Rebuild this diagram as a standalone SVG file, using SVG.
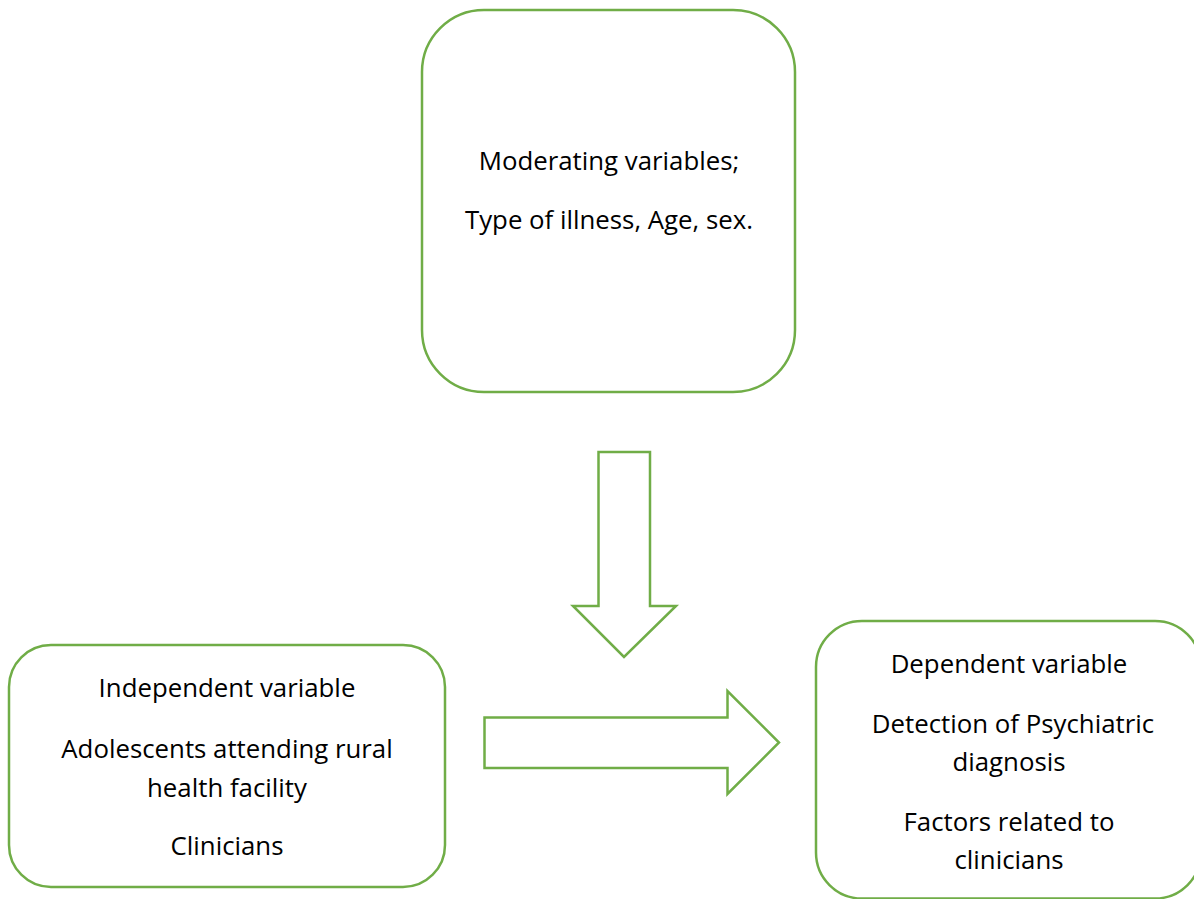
<svg xmlns="http://www.w3.org/2000/svg" width="1194" height="899" viewBox="0 0 1194 899">
<style>
.box{fill:#fff;stroke:#70AD47;stroke-width:2.5}
.arr{fill:#fff;stroke:#70AD47;stroke-width:2.5;stroke-linejoin:miter}
text{font-family:"Open Sans","Noto Sans",sans-serif;font-size:25.8px;fill:#000;text-anchor:middle}
</style>
<rect width="1194" height="899" fill="#fff"/>
<g id="moderating">
<rect class="box" x="422" y="10" width="373" height="382" rx="62" ry="62"/>
<text x="609" y="170">Moderating variables;</text>
<text x="609" y="229">Type of illness, Age, sex.</text>
</g>
<g id="independent">
<rect class="box" x="9" y="645" width="436" height="242" rx="42" ry="42"/>
<text x="227" y="697">Independent variable</text>
<text x="227" y="758">Adolescents attending rural</text>
<text x="227" y="797">health facility</text>
<text x="227" y="855">Clinicians</text>
</g>
<g id="dependent">
<rect class="box" x="816" y="621" width="385" height="277.5" rx="46" ry="46"/>
<text x="1009" y="673">Dependent variable</text>
<text x="1013" y="733">Detection of Psychiatric</text>
<text x="1009" y="771">diagnosis</text>
<text x="1009" y="831">Factors related to</text>
<text x="1009" y="869">clinicians</text>
</g>
<g id="connectors">
<polygon class="arr" points="598.5,452 650,452 650,606 676,606 624,657 573,606 598.5,606"/>
<polygon class="arr" points="484.5,717.5 727.5,717.5 727.5,691 779,742.5 727.5,794 727.5,768 484.5,768"/>
</g>
</svg>
